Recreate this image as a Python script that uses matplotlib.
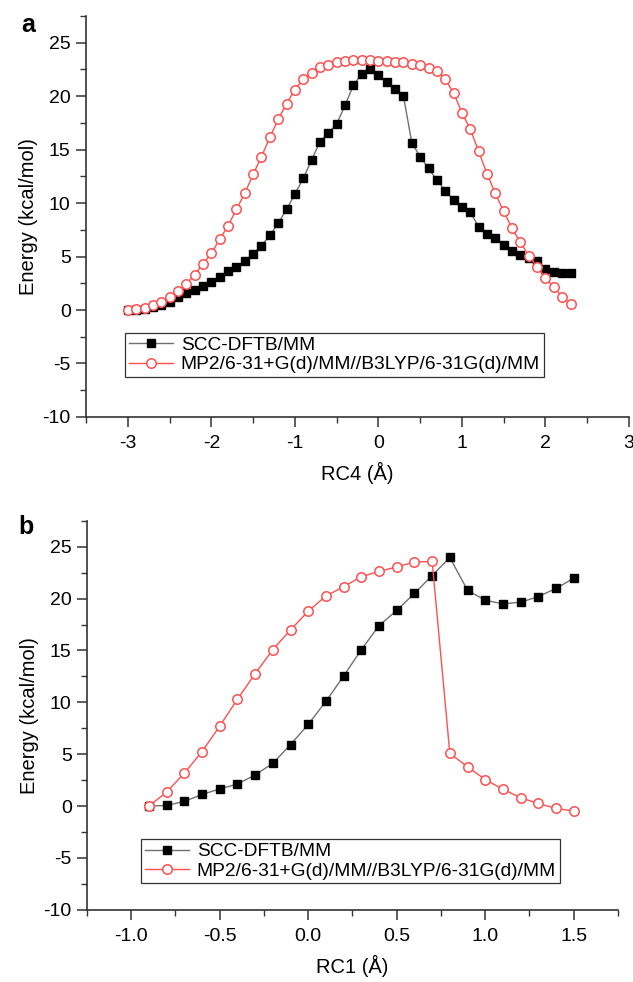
import numpy as np
import matplotlib.pyplot as plt
from matplotlib.ticker import MultipleLocator

plt.rcParams["font.family"] = ["Liberation Sans", "DejaVu Sans"]
plt.rcParams["axes.unicode_minus"] = False

# Panel a: energy profile along RC4 (0.1 A steps)
rc4 = np.round(np.arange(-3.0, 2.31, 0.1), 1)
dftb_rc4 = [
    0.0, 0.03, 0.1, 0.25, 0.47, 0.78, 1.22, 1.56, 1.87, 2.2,
    2.6, 3.12, 3.68, 4.05, 4.61, 5.23, 6.01, 6.98, 8.1, 9.41,
    10.84, 12.31, 14.02, 15.73, 16.57, 17.38, 19.13, 21.0, 22.1, 22.58,
    21.96, 21.34, 20.62, 20.0, 15.64, 14.33, 13.24, 12.15, 11.15, 10.28,
    9.6, 9.13, 7.79, 7.07, 6.7, 6.07, 5.54, 5.14, 4.83, 4.61,
    3.8, 3.58, 3.49, 3.43,
]
mp2_rc4 = [
    0.0, 0.06, 0.17, 0.43, 0.75, 1.25, 1.75, 2.46, 3.3, 4.3,
    5.3, 6.6, 7.88, 9.41, 10.9, 12.68, 14.33, 16.14, 17.82, 19.3,
    20.6, 21.6, 22.2, 22.7, 22.9, 23.15, 23.3, 23.36, 23.36, 23.4,
    23.33, 23.3, 23.21, 23.15, 23.02, 22.87, 22.65, 22.34, 21.56, 20.31,
    18.44, 16.92, 14.83, 12.74, 10.9, 9.22, 7.63, 6.33, 5.08, 4.05,
    3.02, 2.12, 1.25, 0.56,
]

# Panel b: energy profile along RC1
rc1 = np.round(np.arange(-0.9, 1.51, 0.1), 1)
dftb_rc1 = [
    0.0, 0.06, 0.45, 1.12, 1.65, 2.12, 3.0, 4.12, 5.93, 7.87,
    10.1, 12.53, 15.08, 17.39, 18.86, 20.5, 22.22, 23.96, 20.79, 19.84,
    19.49, 19.65, 20.19, 20.98, 21.96,
]
mp2_rc1 = [
    0.0, 1.35, 3.17, 5.25, 7.71, 10.29, 12.76, 15.08, 16.98, 18.79,
    20.25, 21.14, 22.11, 22.62, 23.05, 23.52, 23.58, 5.08, 3.78, 2.56,
    1.62, 0.8, 0.25, -0.23, -0.48,
]

label_dftb = "SCC-DFTB/MM"
label_mp2 = "MP2/6-31+G(d)/MM//B3LYP/6-31G(d)/MM"

red = "#ff5050"


def dibujar_panel(ax, x, y_dftb, y_mp2, xlim, xmajor, xminor, xlabel,
                  letra, letra_pos, legend_pos, fmt):
    ax.plot(x, y_dftb, color="#707070", linewidth=1.0, marker="s",
            markersize=5.8, markerfacecolor="black", markeredgecolor="black",
            label=label_dftb, zorder=2)
    ax.plot(x, y_mp2, color=red, linewidth=1.0, marker="o",
            markersize=6.8, markerfacecolor="white", markeredgecolor=red,
            markeredgewidth=1.1, label=label_mp2, zorder=3)

    ax.set_xlim(*xlim)
    ax.set_ylim(-10, 27.5)
    ax.xaxis.set_major_locator(MultipleLocator(xmajor))
    ax.xaxis.set_minor_locator(MultipleLocator(xminor))
    ax.yaxis.set_major_locator(MultipleLocator(5))
    ax.yaxis.set_minor_locator(MultipleLocator(2.5))
    ax.xaxis.set_major_formatter(plt.FuncFormatter(lambda v, p: fmt.format(v)))

    for lado in ["top", "right"]:
        ax.spines[lado].set_visible(False)
    for lado in ["left", "bottom"]:
        ax.spines[lado].set_linewidth(1.2)
        ax.spines[lado].set_color("#333333")

    ax.tick_params(which="major", direction="out", length=7, width=1.1,
                   color="#333333", labelsize=14)
    ax.tick_params(which="minor", direction="out", length=4, width=1.0,
                   color="#333333")
    ax.tick_params(axis="x", which="major", pad=6)
    ax.tick_params(axis="y", which="major", pad=4)

    ax.set_xlabel(xlabel, fontsize=14.5, labelpad=7)
    ax.set_ylabel("Energy (kcal/mol)", fontsize=14.5, labelpad=3)

    leg = ax.legend(loc="upper left", bbox_to_anchor=legend_pos,
                    fontsize=13.8, frameon=True, fancybox=False,
                    edgecolor="#333333", framealpha=1, borderpad=0.2,
                    labelspacing=0.1, handlelength=2.3, handletextpad=0.4,
                    borderaxespad=0)
    leg.get_frame().set_linewidth(0.9)

    ax.text(letra_pos[0], letra_pos[1], letra, transform=ax.transAxes,
            fontsize=18, fontweight="bold", ha="right", va="center")


fig = plt.figure(figsize=(6.33, 9.82), dpi=100)
ax_a = fig.add_axes([0.1359, 0.5754, 0.8578, 0.4084])
ax_b = fig.add_axes([0.1374, 0.0735, 0.8389, 0.3962])

dibujar_panel(ax_a, rc4, dftb_rc4, mp2_rc4, (-3.5, 3.0), 1, 0.5,
              "RC4 (\u00c5)", "a", (-0.094, 0.978), (0.072, 0.21), "{:.0f}")
dibujar_panel(ax_b, rc1, dftb_rc1, mp2_rc1, (-1.25, 1.75), 0.5, 0.25,
              "RC1 (\u00c5)", "b", (-0.10, 0.985), (0.102, 0.182), "{:.1f}")

fig.savefig("out.png", dpi=100)
